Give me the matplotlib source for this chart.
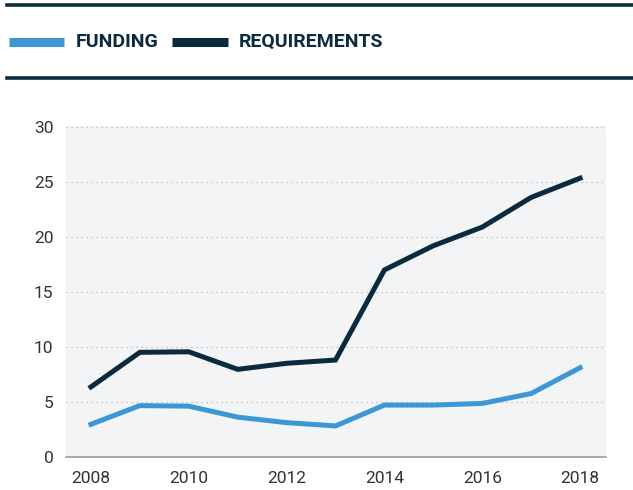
import matplotlib.pyplot as plt
from matplotlib.lines import Line2D
from matplotlib import font_manager

years = [2008, 2009, 2010, 2011, 2012, 2013, 2014, 2015, 2016, 2017, 2018]
funding = [2.95, 4.65, 4.6, 3.6, 3.1, 2.8, 4.7, 4.7, 4.85, 5.75, 8.1]
requirements = [6.35, 9.5, 9.55, 7.95, 8.5, 8.8, 17.0, 19.2, 20.9, 23.6, 25.35]
yticks = [0, 5, 10, 15, 20, 25, 30]
xticks = [2008, 2010, 2012, 2014, 2016, 2018]

BLUE = '#3d97d5'
DARK = '#0b2a3e'

names = {f.name for f in font_manager.fontManager.ttflist}
narrow = 'Liberation Sans Narrow' if 'Liberation Sans Narrow' in names else 'Roboto'
plt.rcParams['font.family'] = [narrow, 'DejaVu Sans']

fig = plt.figure(figsize=(6.33, 4.9), dpi=100)
W, H = 633, 490

def fx(px):
    return px / W

def fy(py):
    return 1 - py / H

# header rules
fig.add_artist(Line2D([fx(7), 1], [fy(5), fy(5)], color=DARK, lw=2.6))
fig.add_artist(Line2D([fx(7), 1], [fy(78), fy(78)], color=DARK, lw=2.6))

# legend
fig.add_artist(Line2D([fx(9), fx(64)], [fy(42), fy(42)], color=BLUE, lw=6.5,
                      solid_capstyle='butt'))
fig.text(fx(76), fy(42), 'FUNDING', color=DARK, fontsize=14, fontweight='bold',
         va='center', ha='left')
fig.add_artist(Line2D([fx(172), fx(228)], [fy(42), fy(42)], color=DARK, lw=6.5,
                      solid_capstyle='butt'))
fig.text(fx(239), fy(42), 'REQUIREMENTS', color=DARK, fontsize=14,
         fontweight='bold', va='center', ha='left')

ax = fig.add_axes([fx(66), fy(456.7), fx(606) - fx(66), fy(126) - fy(456.7)])
ax.set_facecolor('#f2f4f6')
ax.plot(years, funding, color=BLUE, lw=3.6, solid_joinstyle='miter')
ax.plot(years, requirements, color=DARK, lw=3.6, solid_joinstyle='miter')

ax.set_xlim(2007.49, 2018.53)
ax.set_ylim(0, 30.1)
ax.set_yticks(yticks)
ax.set_xticks(xticks)
ax.grid(axis='y', linestyle=(0, (1, 3)), color='#b5b8bb', lw=0.9)
ax.set_axisbelow(True)
for s in ['top', 'right', 'left']:
    ax.spines[s].set_visible(False)
ax.spines['bottom'].set_color('#9a9a9a')
ax.spines['bottom'].set_linewidth(1.2)
ax.tick_params(length=0, labelsize=12.5, labelcolor='#333333')
ax.tick_params(axis='y', pad=9)
ax.tick_params(axis='x', pad=10)

fig.savefig('out.png', dpi=100)
